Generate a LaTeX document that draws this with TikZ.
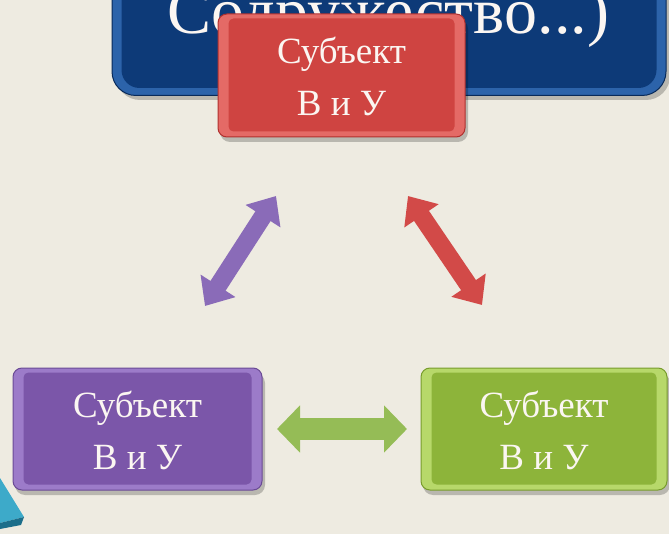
\documentclass[tikz,border=0pt]{standalone}
\usepackage{fontspec}
\setmainfont{Liberation Serif}
\usetikzlibrary{arrows.meta,calc}
\definecolor{bg}{HTML}{EEEBE1}
\definecolor{rmain}{HTML}{CF4441}
\definecolor{rlight}{HTML}{E46A66}
\definecolor{rdark}{HTML}{B0302E}
\definecolor{pmain}{HTML}{7B56A9}
\definecolor{plight}{HTML}{9C7BC9}
\definecolor{pdark}{HTML}{6A4A95}
\definecolor{gmain}{HTML}{8DB43A}
\definecolor{glight}{HTML}{B7D86A}
\definecolor{gdark}{HTML}{789C2C}
\definecolor{bmain}{HTML}{0D3A78}
\definecolor{blight}{HTML}{2C63AA}
\definecolor{bdark}{HTML}{082A5A}
\definecolor{parrow}{HTML}{8A6BB8}
\definecolor{rarrow}{HTML}{D24A48}
\definecolor{garrow}{HTML}{95BC56}
\definecolor{tcyan}{HTML}{3DAAC9}
\definecolor{tcyandark}{HTML}{1C6E8A}
\definecolor{txt}{HTML}{FBF6F2}
\tikzset{
  boxtext/.style={text=txt, font=\fontsize{37}{52}\selectfont, align=center, inner sep=0pt},
  dblarrow/.style={line width=18pt, {Triangle[length=24pt,width=40pt]}-{Triangle[length=24pt,width=40pt]}},
}
\newcommand\mybox[5]{%
  \fill[black,opacity=.22,rounded corners=10pt] ($(#2)+(-#3/2+2,-#4/2+5)$) rectangle ($(#2)+(#3/2+3,#4/2+5)$);
  \node[draw=#5dark, line width=1pt, fill=#5light, rounded corners=9pt, minimum width=#3pt, minimum height=#4pt, inner sep=0pt] (#1) at (#2) {};
  \fill[#5main, rounded corners=5pt] ($(#1.north west)+(11,5)$) rectangle ($(#1.south east)+(-11,-6)$);
  \node[boxtext] (#1t) at ($(#1)+(0,1)$) {Субъект\\В и У};
}
\begin{document}
\begin{tikzpicture}[x=1pt,y=-1pt]
\useasboundingbox (0,0) rectangle (669,534);
\fill[bg] (0,0) rectangle (669,534);
% blue box
\fill[black,opacity=.22,rounded corners=24pt] (116,-40) rectangle (670,100);
\node[draw=bdark, line width=1pt, fill=blight, rounded corners=24pt, minimum width=554pt, minimum height=136pt, inner sep=0pt] (blue) at (389,-41) [anchor=north] {};
\fill[bmain, rounded corners=18pt] ($(blue.north west)+(10,0)$) rectangle ($(blue.south east)+(-10,-8)$);
\node[text=txt, font=\fontsize{66}{70}\selectfont, anchor=base, inner sep=0pt] (bluet) at (388,34) {Содружество...)};
% boxes
\mybox{red}{341.5,75.5}{247}{123}{r}
\mybox{purple}{137.5,429}{249}{122}{p}
\mybox{green}{544,429}{246}{122}{g}
% arrows
\coordinate (pa1) at (205,306);
\coordinate (pa2) at (276,196);
\coordinate (ra1) at (408,196);
\coordinate (ra2) at (482,305);
\coordinate (ga1) at (277,429);
\coordinate (ga2) at (407,429);
\draw[dblarrow, draw=parrow, fill=parrow] (pa1) -- (pa2);
\draw[dblarrow, draw=rarrow, fill=rarrow] (ra1) -- (ra2);
\draw[dblarrow, draw=garrow, fill=garrow, line width=22pt, {Triangle[length=23pt,width=46pt]}-{Triangle[length=23pt,width=46pt]}] (ga1) -- (ga2);
% cyan triangle
\fill[tcyan] (0,478) -- (24,517) -- (0,523) -- cycle;
\fill[tcyandark] (0,523) -- (24,517) -- (21,525) -- (0,529) -- cycle;
\end{tikzpicture}
\end{document}
